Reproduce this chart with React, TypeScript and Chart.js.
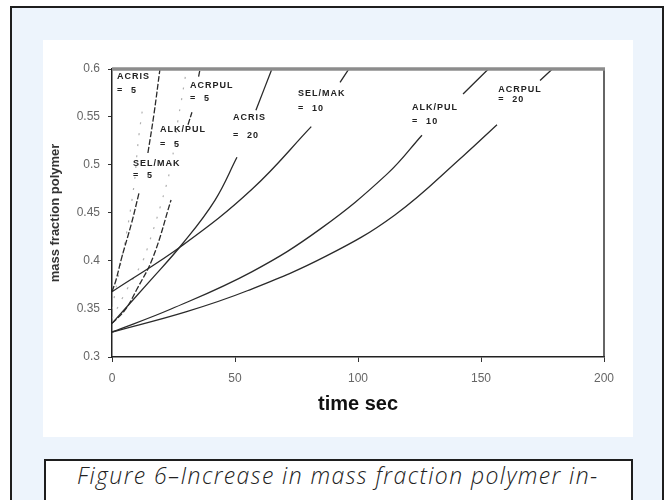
import React, { useEffect, useRef } from "react";
import { Chart, registerables } from "chart.js";

Chart.register(...registerables);

// ---- axes ----
const X_TICKS = [0, 50, 100, 150, 200];
const Y_TICKS = [0.3, 0.35, 0.4, 0.45, 0.5, 0.55, 0.6];
const Y_TICK_LABELS = ["0.3", "0.35", "0.4", "0.45", "0.5", "0.55", "0.6"];
const X_TITLE = "time sec";
const Y_TITLE = "mass fraction polymer";
const CAPTION = "Figure 6–Increase in mass fraction polymer in-";

// ---- curves (time s, mass fraction); null = gap where a label sits ----
const T_A = [0, 1.6, 4, 8, 11, 12.8, 14.6, 17, 19.5];
const V_A = [0.368, 0.38, 0.404, 0.44, 0.471, null, 0.5125, 0.552, 0.6];

const T_B = [0, 5.3, 10, 16.7, 24, 27, 30.9, 32.5, 34, 35.2, 35.8];
const V_B = [0.335, 0.349, 0.37, 0.404, 0.4635, null, 0.542, 0.555, null, 0.592, 0.6];

const T_C = [0, 15, 29, 41.9, 50.8, 54.5, 58.5, 65];
const V_C = [0.335, 0.378, 0.419, 0.4635, 0.508, null, 0.557, 0.6];

const T_D = [0, 29, 57, 81, 87, 92.7, 96.3];
const V_D = [0.368, 0.417, 0.475, 0.54, null, 0.586, 0.6];

const T_E = [0, 24, 57, 85, 112, 126, 134, 142.7, 153];
const V_E = [0.326, 0.35, 0.389, 0.434, 0.491, 0.531, null, 0.574, 0.6];

const T_F = [0, 30, 55, 87, 115, 143, 156.5, 165, 174, 179];
const V_F = [0.326, 0.347, 0.369, 0.405, 0.448, 0.51, 0.542, null, 0.588, 0.6];

// faint dotted curves
const T_P1 = [0, 3, 6, 9, 10.2, 11, 12.5];
const V_P1 = [0.35, 0.39, 0.43, 0.48, 0.513, 0.532, 0.56];
const T_P2 = [0, 6, 12.5, 14.6, 20, 24, 27, 28, 30];
const V_P2 = [0.34, 0.37, 0.4, 0.415, 0.46, 0.5, 0.55, 0.564, 0.595];

// ---- in-plot labels ----
const LABEL_NAMES = ["ACRIS", "ACRPUL", "ALK/PUL", "SEL/MAK", "ACRIS", "SEL/MAK", "ALK/PUL", "ACRPUL"];
const LABEL_VALUES = ["5", "5", "5", "5", "20", "10", "10", "20"];
const LABEL_T = [2, 31.7, 19.5, 8.5, 49.2, 75.6, 122, 157];
const LABEL_V1 = [0.592, 0.583, 0.537, 0.502, 0.549, 0.574, 0.56, 0.579];
const LABEL_V2 = [0.578, 0.569, 0.521, 0.489, 0.531, 0.559, 0.545, 0.568];

const FONT = "'Liberation Sans', Arial, sans-serif";

function pts(t: number[], v: (number | null)[]) {
  return t.map((x, i) => ({ x, y: v[i] }));
}

function solid(t: number[], v: (number | null)[], dash: number[] = []) {
  return {
    data: pts(t, v),
    borderColor: "#2a2a2a",
    borderWidth: 1.3,
    borderDash: dash,
    pointRadius: 0,
    fill: false,
    spanGaps: false,
    tension: 0.4,
  };
}

function faint(t: number[], v: (number | null)[]) {
  return {
    data: pts(t, v),
    borderColor: "#b0b0b0",
    borderWidth: 1.2,
    borderDash: [2, 9],
    pointRadius: 0,
    fill: false,
    spanGaps: false,
    tension: 0.4,
  };
}

const framePlugin = {
  id: "frame",
  afterDatasetsDraw(chart: any) {
    const { ctx, chartArea: a, scales } = chart;
    ctx.save();
    // right border
    ctx.strokeStyle = "#333";
    ctx.lineWidth = 1.5;
    ctx.beginPath();
    ctx.moveTo(a.right, a.top);
    ctx.lineTo(a.right, a.bottom);
    ctx.stroke();
    // thick grey top border
    ctx.strokeStyle = "#8c8c8c";
    ctx.lineWidth = 3.5;
    ctx.beginPath();
    ctx.moveTo(a.left, a.top);
    ctx.lineTo(a.right + 1, a.top);
    ctx.stroke();

    // curve labels
    ctx.fillStyle = "#222";
    ctx.font = `bold 9px ${FONT}`;
    (ctx as any).letterSpacing = "1px";
    ctx.textBaseline = "middle";
    ctx.textAlign = "left";
    const xs = scales.x;
    const ys = scales.y;
    LABEL_NAMES.forEach((name, i) => {
      const x = xs.getPixelForValue(LABEL_T[i]);
      ctx.fillText(name, x, ys.getPixelForValue(LABEL_V1[i]));
      const y2 = ys.getPixelForValue(LABEL_V2[i]);
      ctx.fillText("=", x, y2);
      ctx.fillText(LABEL_VALUES[i], x + 14, y2);
    });
    (ctx as any).letterSpacing = "0px";
    ctx.restore();
  },
};

export default function App() {
  const ref = useRef<HTMLCanvasElement>(null);

  useEffect(() => {
    const chart = new Chart(ref.current as HTMLCanvasElement, {
      type: "line",
      data: {
        datasets: [
          solid(T_A, V_A, [6, 2]),
          solid(T_B, V_B, [6, 2]),
          solid(T_C, V_C),
          solid(T_D, V_D),
          solid(T_E, V_E),
          solid(T_F, V_F),
          faint(T_P1, V_P1),
          faint(T_P2, V_P2),
        ] as any,
      },
      options: {
        animation: false,
        responsive: false,
        maintainAspectRatio: false,
        layout: { padding: { top: 29, right: 29, left: 0, bottom: 0 } },
        plugins: {
          legend: { display: false },
          tooltip: { enabled: false },
        },
        scales: {
          x: {
            type: "linear",
            min: 0,
            max: 200,
            afterBuildTicks: (s: any) => {
              s.ticks = X_TICKS.map((v) => ({ value: v }));
            },
            afterFit: (s: any) => {
              s.height = 80;
            },
            ticks: {
              color: "#666",
              font: { size: 12, family: FONT },
              padding: 9,
              maxRotation: 0,
              callback: (v: any) => String(v),
            },
            grid: {
              display: true,
              drawOnChartArea: false,
              drawTicks: true,
              tickLength: 5,
              color: "#333",
            },
            border: { display: true, color: "#222", width: 1.5 },
            title: {
              display: true,
              text: X_TITLE,
              color: "#111",
              font: { size: 20, weight: "bold", family: FONT },
              padding: { top: 4, bottom: 21 },
            },
          },
          y: {
            type: "linear",
            min: 0.3,
            max: 0.6,
            afterBuildTicks: (s: any) => {
              s.ticks = Y_TICKS.map((v) => ({ value: v }));
            },
            afterFit: (s: any) => {
              s.width = 69;
            },
            ticks: {
              color: "#666",
              font: { size: 12, family: FONT },
              padding: 8,
              callback: (_v: any, i: number) => Y_TICK_LABELS[i],
            },
            grid: {
              display: true,
              drawOnChartArea: false,
              drawTicks: true,
              tickLength: 4,
              color: "#333",
            },
            border: { display: true, color: "#222", width: 1.5 },
            title: {
              display: true,
              text: Y_TITLE,
              color: "#333",
              font: { size: 13, weight: "bold", family: FONT },
              padding: { top: 5, bottom: 0 },
            },
          },
        },
      },
      plugins: [framePlugin],
    } as any);
    return () => chart.destroy();
  }, []);

  return (
    <div
      style={{
        position: "absolute",
        left: 0,
        top: 0,
        width: 670,
        height: 500,
        background: "#fff",
        overflow: "hidden",
      }}
    >
      <div
        style={{
          position: "absolute",
          left: 10,
          top: 6,
          width: 650,
          height: 520,
          background: "#edf4fc",
          border: "2px solid #1e1e1e",
        }}
      />
      <div
        style={{
          position: "absolute",
          left: 43,
          top: 40,
          width: 590,
          height: 397,
          background: "#fff",
        }}
      >
        <canvas ref={ref} width={590} height={397} style={{ display: "block" }} />
      </div>
      <div
        style={{
          position: "absolute",
          left: 44,
          top: 459,
          width: 585,
          height: 60,
          background: "#fff",
          border: "2px solid #1e1e1e",
        }}
      />
      <div
        style={{
          position: "absolute",
          left: 77,
          top: 464,
          fontFamily: "'Open Sans', 'DejaVu Sans', sans-serif",
          fontStyle: "italic",
          fontWeight: 300,
          fontSize: 23,
          letterSpacing: "1.4px",
          lineHeight: "22px",
          color: "#222",
          whiteSpace: "nowrap",
        }}
      >
        {CAPTION}
      </div>
    </div>
  );
}
